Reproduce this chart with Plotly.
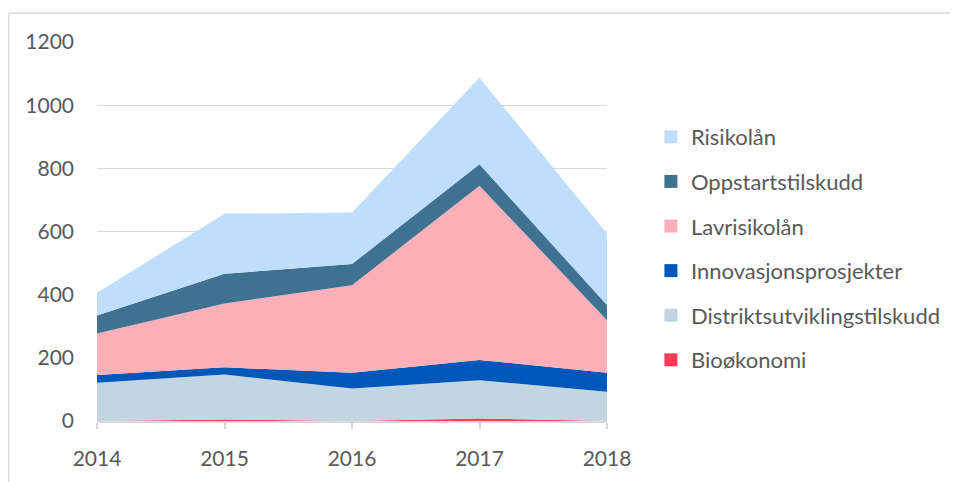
import plotly.graph_objects as go

years = [2014, 2015, 2016, 2017, 2018]
series_names = ["Bioøkonomi", "Distriktsutviklingstilskudd", "Innovasjonsprosjekter",
                "Lavrisikolån", "Oppstartstilskudd", "Risikolån"]
bio = [0, 5, 0, 8, 0]
distrikt = [121, 142, 103, 121, 93]
innovasjon = [25, 23, 50, 64, 60]
lavrisiko = [131, 202, 277, 552, 166]
oppstart = [57, 94, 67, 68, 48]
risiko = [72, 190, 163, 274, 226]
values = [bio, distrikt, innovasjon, lavrisiko, oppstart, risiko]
colors = ["#FF3B55", "#C1D6E2", "#0057BA", "#FBAFB8", "#3E7290", "#BFDDFD"]
y_ticks = [0, 200, 400, 600, 800, 1000, 1200]

FONT = "Lato"
TXT = "#595959"
GRID = "#D9D9D9"

fig = go.Figure()
for name, vals, col in zip(series_names, values, colors):
    fig.add_trace(go.Scatter(x=years, y=vals, stackgroup="one", mode="none",
                             fillcolor=col, line=dict(width=0), name=name,
                             showlegend=False, hoverinfo="x+y+name"))
# legend entries with square markers (top of stack first)
for name, col in reversed(list(zip(series_names, colors))):
    fig.add_trace(go.Scatter(x=[None], y=[None], mode="markers", name=name,
                             legendgroup=name,
                             marker=dict(symbol="square", size=13, color=col)))

# the page body has an 8px margin, so the figure is drawn 8px smaller/offset
OFF = 8
W, H = 958 - OFF, 482 - OFF
L, R, T, B = 97 - OFF, 350, 42 - OFF, 56
pw, ph = W - L - R, H - T - B

def px(xp):
    return (xp - OFF - L) / pw

def py(yp):
    return (H - B - (yp - OFF)) / ph

fig.update_layout(
    width=W, height=H,
    margin=dict(l=L, r=R, t=T, b=B),
    paper_bgcolor="white", plot_bgcolor="white",
    font=dict(family=FONT, size=21, color=TXT),
    xaxis=dict(range=[2014, 2018], tickvals=years, ticktext=[str(y) for y in years],
               showgrid=False, zeroline=False, showline=True, linecolor=GRID,
               linewidth=1.5, ticks="outside", ticklen=6, tickcolor=GRID, tickwidth=1.5,
               ticklabelstandoff=12, tickfont=dict(size=21, color=TXT)),
    yaxis=dict(range=[0, 1200], tickvals=y_ticks, showgrid=True, gridcolor=GRID,
               gridwidth=1.3, zeroline=False, showline=False, ticks="",
               ticklabelstandoff=22, tickfont=dict(size=21, color=TXT)),
    legend=dict(x=px(652), y=py(117), xanchor="left", yanchor="top",
                traceorder="grouped", tracegroupgap=13,
                font=dict(size=22, color=TXT), bgcolor="rgba(0,0,0,0)",
                itemsizing="trace"),
    shapes=[
        dict(type="line", xref="paper", yref="paper", x0=px(8.5), x1=px(8.5),
             y0=py(12.5), y1=py(490), line=dict(color=GRID, width=1.5)),
        dict(type="line", xref="paper", yref="paper", x0=px(8.5), x1=px(970),
             y0=py(12.5), y1=py(12.5), line=dict(color=GRID, width=1.5)),
    ],
)

fig.write_html("out.html")
